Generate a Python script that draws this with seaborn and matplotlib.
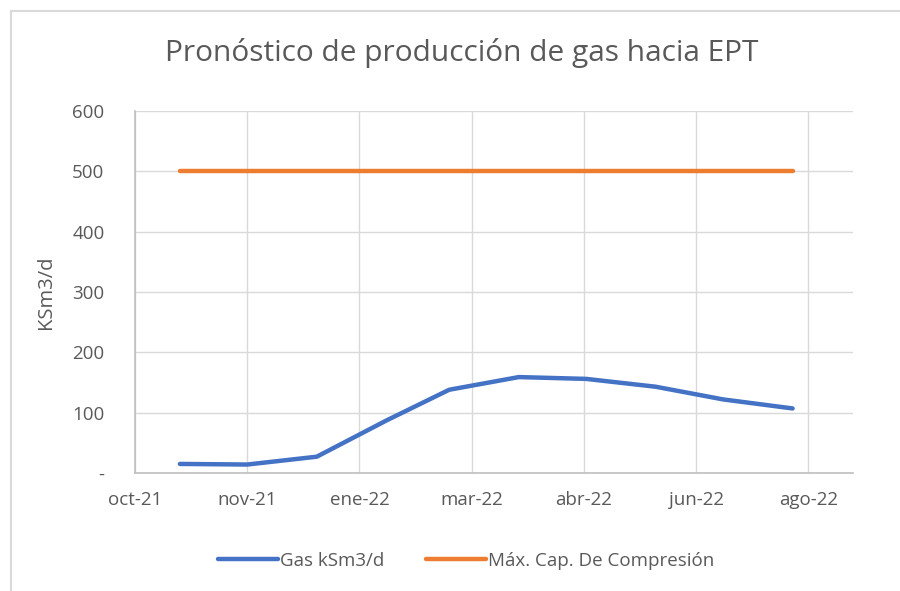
import matplotlib
matplotlib.use("Agg")
import matplotlib.pyplot as plt
from matplotlib.lines import Line2D
import seaborn as sns
import pandas as pd

# data
fechas = ["2021-10-31", "2021-11-30", "2021-12-31", "2022-01-31", "2022-02-28",
          "2022-03-31", "2022-04-30", "2022-05-31", "2022-06-30", "2022-07-31"]
gas = [15, 14, 27, 87, 138, 159, 156, 143, 122, 107]
max_cap = [500, 500, 500, 500, 500, 500, 500, 500, 500, 500]

tick_fechas = ["2021-10-11", "2021-11-30", "2022-01-19", "2022-03-10",
               "2022-04-29", "2022-06-18", "2022-08-07"]
tick_labels = ["oct-21", "nov-21", "ene-22", "mar-22", "abr-22", "jun-22", "ago-22"]
y_ticks = [0, 100, 200, 300, 400, 500, 600]
y_labels = ["-", "100", "200", "300", "400", "500", "600"]

df = pd.DataFrame({"fecha": pd.to_datetime(fechas), "Gas kSm3/d": gas,
                   "Máx. Cap. De Compresión": max_cap})
long_df = df.melt(id_vars="fecha", var_name="serie", value_name="valor")

sns.set_style("white")
plt.rcParams["font.family"] = ["Open Sans", "DejaVu Sans"]

grid_c = "#d9d9d9"
text_c = "#595959"

fig = plt.figure(figsize=(9, 5.91), dpi=100)
ax = fig.add_axes([0.15, 0.1997, 0.798, 0.6123])

sns.lineplot(data=long_df, x="fecha", y="valor", hue="serie",
             palette=["#4472c4", "#ed7d31"], linewidth=3.2, ax=ax,
             legend=False)

ax.set_xlim(pd.Timestamp("2021-10-11"), pd.Timestamp("2021-10-11") + pd.Timedelta(days=320))
ax.set_ylim(0, 600)
ax.set_xticks(pd.to_datetime(tick_fechas))
ax.set_xticklabels(tick_labels)
ax.set_yticks(y_ticks)
ax.set_yticklabels(y_labels)
ax.tick_params(axis="both", length=0, labelsize=13.5, labelcolor=text_c)
ax.tick_params(axis="x", pad=13)
ax.tick_params(axis="y", pad=22)

ax.grid(True, color=grid_c, linewidth=1)
for s in ["top", "right"]:
    ax.spines[s].set_visible(False)
for s in ["left", "bottom"]:
    ax.spines[s].set_color("#bfbfbf")
    ax.spines[s].set_linewidth(1.2)

ax.set_xlabel("")
ax.set_ylabel("KSm3/d", fontsize=14.5, color=text_c, labelpad=12)
fig.text(0.513, 0.91, "Pronóstico de producción de gas hacia EPT",
         ha="center", va="center", fontsize=21.5, color=text_c)

handles = [Line2D([0], [0], color="#4472c4", lw=3.2),
           Line2D([0], [0], color="#ed7d31", lw=3.2)]
fig.legend(handles, ["Gas kSm3/d", "Máx. Cap. De Compresión"], loc="center",
           bbox_to_anchor=(0.518, 0.051), ncol=2, frameon=False, fontsize=13.5,
           labelcolor=text_c, handlelength=3.2, handletextpad=0.1, columnspacing=2.2)

# chart border
fig.add_artist(Line2D([11 / 900, 11 / 900], [0, 1 - 11 / 591], color="#d9d9d9", lw=1.5,
                      transform=fig.transFigure))
fig.add_artist(Line2D([11 / 900, 1], [1 - 11 / 591, 1 - 11 / 591], color="#d9d9d9", lw=1.5,
                      transform=fig.transFigure))

fig.savefig("out.png", dpi=100)
